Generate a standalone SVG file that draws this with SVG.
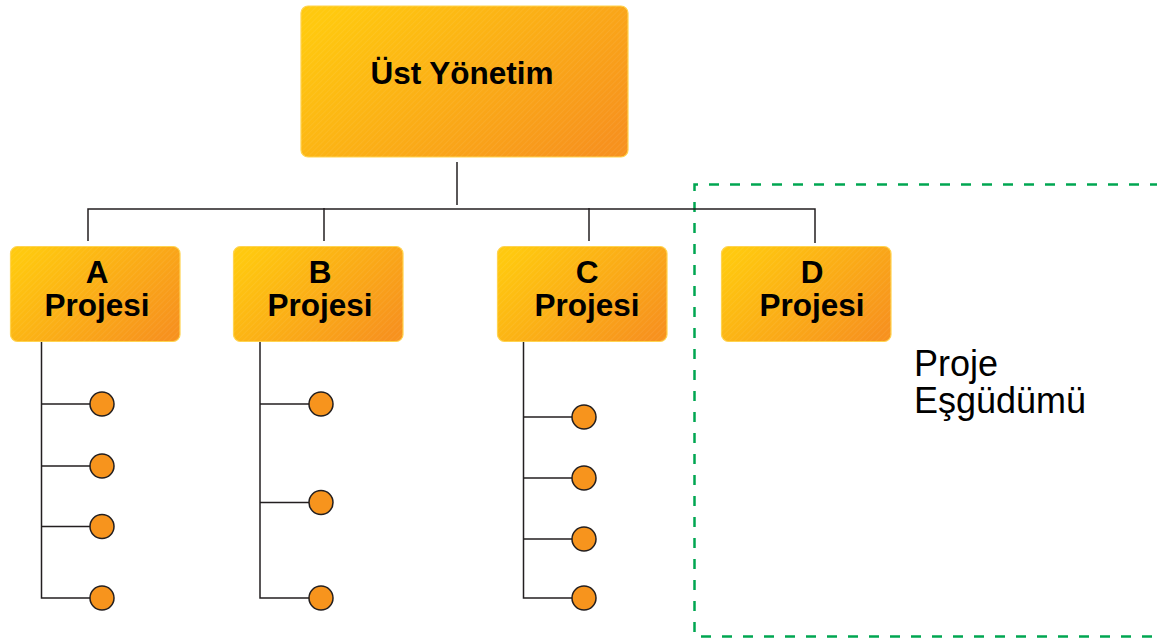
<svg xmlns="http://www.w3.org/2000/svg" width="1157" height="639" viewBox="0 0 1157 639">
  <style>
    .box { fill: url(#boxFill); stroke: #FFD34E; stroke-width: 1.2; }
    .hatch { fill: url(#hatch); stroke: none; }
    .lbl { font-family: "Liberation Sans", Arial, sans-serif; font-weight: bold; font-size: 31.5px; fill: #000; text-anchor: middle; }
    .note { font-family: "Liberation Sans", Arial, sans-serif; font-size: 36px; fill: #000; }
    .wire { fill: none; stroke: #231F20; stroke-width: 1.5; }
    .dot { fill: #F7941D; stroke: #231F20; stroke-width: 1.5; }
    .zone { fill: none; stroke: #00A651; stroke-width: 2.5; stroke-dasharray: 10 11; }
  </style>
  <defs>
    <linearGradient id="boxFill" x1="0" y1="0.2" x2="1" y2="0.8">
      <stop offset="0" stop-color="#FFC90F"/>
      <stop offset="1" stop-color="#F7921E"/>
    </linearGradient>
    <pattern id="hatch" width="4" height="4" patternUnits="userSpaceOnUse" patternTransform="rotate(45)">
      <line x1="0" y1="0" x2="0" y2="4" stroke="#ffffff" stroke-width="1" stroke-opacity="0.12"/>
    </pattern>
  </defs>

  <!-- coordination zone -->
  <path class="zone" d="M 1160 184.5 H 694.5 V 636.5 H 1160"/>

  <!-- connectors -->
  <g id="connectors">
    <path class="wire" d="M 457 162 V 205"/>
    <path class="wire" d="M 88 241 V 209 H 815 V 243"/>
    <path class="wire" d="M 324 208 V 241"/>
    <path class="wire" d="M 589 208 V 241"/>
    <!-- A branch -->
    <path class="wire" d="M 41.5 341 V 598 H 90 M 41.5 404 H 90 M 41.5 466 H 90 M 41.5 526.5 H 90"/>
    <!-- B branch -->
    <path class="wire" d="M 260 341 V 598 H 309 M 260 404 H 309 M 260 502.5 H 309"/>
    <!-- C branch -->
    <path class="wire" d="M 523.5 341 V 598 H 572 M 523.5 417 H 572 M 523.5 478 H 572 M 523.5 539 H 572"/>
  </g>

  <g id="top">
    <rect class="box" x="301" y="6" width="327" height="151" rx="7"/>
    <rect class="hatch" x="301" y="6" width="327" height="151" rx="7"/>
    <text class="lbl" x="462" y="84">Üst Yönetim</text>
  </g>

  <g id="projA">
    <rect class="box" x="10.5" y="246.5" width="169.5" height="95" rx="7"/>
    <rect class="hatch" x="10.5" y="246.5" width="169.5" height="95" rx="7"/>
    <text class="lbl" x="97" y="283">A</text>
    <text class="lbl" x="97" y="316">Projesi</text>
  </g>
  <g id="projB">
    <rect class="box" x="233.5" y="246.5" width="169.5" height="95" rx="7"/>
    <rect class="hatch" x="233.5" y="246.5" width="169.5" height="95" rx="7"/>
    <text class="lbl" x="320" y="283">B</text>
    <text class="lbl" x="320" y="316">Projesi</text>
  </g>
  <g id="projC">
    <rect class="box" x="497.5" y="246.5" width="169.5" height="95" rx="7"/>
    <rect class="hatch" x="497.5" y="246.5" width="169.5" height="95" rx="7"/>
    <text class="lbl" x="587" y="283">C</text>
    <text class="lbl" x="587" y="316">Projesi</text>
  </g>
  <g id="projD">
    <rect class="box" x="721.5" y="246.5" width="169.5" height="95" rx="7"/>
    <rect class="hatch" x="721.5" y="246.5" width="169.5" height="95" rx="7"/>
    <text class="lbl" x="812" y="283">D</text>
    <text class="lbl" x="812" y="316">Projesi</text>
  </g>

  <g id="tasksA">
    <circle class="dot" cx="102" cy="404" r="12"/>
    <circle class="dot" cx="102" cy="466" r="12"/>
    <circle class="dot" cx="102" cy="526.5" r="12"/>
    <circle class="dot" cx="102" cy="598" r="12"/>
  </g>
  <g id="tasksB">
    <circle class="dot" cx="321" cy="404" r="12"/>
    <circle class="dot" cx="321" cy="502.5" r="12"/>
    <circle class="dot" cx="321" cy="598" r="12"/>
  </g>
  <g id="tasksC">
    <circle class="dot" cx="584" cy="417" r="12"/>
    <circle class="dot" cx="584" cy="478" r="12"/>
    <circle class="dot" cx="584" cy="539" r="12"/>
    <circle class="dot" cx="584" cy="598" r="12"/>
  </g>

  <g id="coordination">
    <text class="note" x="914" y="376">Proje</text>
    <text class="note" x="914" y="413">Eşgüdümü</text>
  </g>
</svg>
